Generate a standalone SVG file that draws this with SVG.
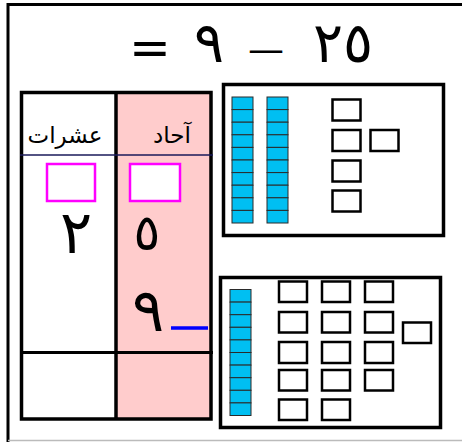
<svg xmlns="http://www.w3.org/2000/svg" width="462" height="442" viewBox="0 0 462 442">
<style>
.ar{font-family:"DejaVu Sans","Liberation Sans",sans-serif;fill:#000}
.cell{fill:#00BFF2;stroke:#2a2a2a;stroke-width:1}
.sq{fill:#fff;stroke:#000;stroke-width:2.5}
.mag{fill:#fff;stroke:#FF00FF;stroke-width:2.5}
.frame{fill:none;stroke:#000;stroke-width:3.5}
</style>
<defs>
<g id="bar">
<rect class="cell" x="0" y="0" width="21" height="12.6"/>
<rect class="cell" x="0" y="12.6" width="21" height="12.6"/>
<rect class="cell" x="0" y="25.2" width="21" height="12.6"/>
<rect class="cell" x="0" y="37.8" width="21" height="12.6"/>
<rect class="cell" x="0" y="50.4" width="21" height="12.6"/>
<rect class="cell" x="0" y="63" width="21" height="12.6"/>
<rect class="cell" x="0" y="75.6" width="21" height="12.6"/>
<rect class="cell" x="0" y="88.2" width="21" height="12.6"/>
<rect class="cell" x="0" y="100.8" width="21" height="12.6"/>
<rect class="cell" x="0" y="113.4" width="21" height="12.6"/>
</g>
</defs>
<rect width="462" height="442" fill="#fff"/>
<g id="outer-frame">
<path d="M8 442 V4.5 H462" fill="none" stroke="#000" stroke-width="3"/>
<line x1="8" y1="440.5" x2="462" y2="440.5" stroke="#bbb" stroke-width="1.5"/>
</g>
<g id="equation">
<text class="ar" x="150" y="65" font-size="50" text-anchor="middle">=</text>
<text class="ar" x="209" y="62" font-size="56" text-anchor="middle">٩</text>
<text class="ar" x="266" y="62" font-size="36" text-anchor="middle">—</text>
<text class="ar" x="343" y="62" font-size="56" text-anchor="middle" direction="ltr">٢٥</text>
</g>
<g id="place-value-table">
<rect x="116" y="92.5" width="95" height="326.5" fill="#FFCCCC"/>
<rect class="frame" x="21.5" y="92.5" width="189.5" height="326.5"/>
<line x1="116" y1="92.5" x2="116" y2="419" stroke="#000" stroke-width="3.5"/>
<line x1="20" y1="155" x2="213" y2="155" stroke="#1a1a5a" stroke-width="1.5"/>
<line x1="20" y1="352.5" x2="213" y2="352.5" stroke="#000" stroke-width="3"/>
<text class="ar" x="65" y="143" font-size="23" text-anchor="middle">عشرات</text>
<text class="ar" x="172" y="143" font-size="23" text-anchor="middle">آحاد</text>
<rect class="mag" x="47" y="164" width="48" height="37"/>
<rect class="mag" x="130" y="164" width="50" height="37"/>
<text class="ar" x="76" y="253" font-size="60" text-anchor="middle">٢</text>
<text class="ar" x="147" y="250" font-size="50" text-anchor="middle">٥</text>
<text class="ar" x="148" y="331" font-size="60" text-anchor="middle">٩</text>
<line x1="171" y1="328" x2="208" y2="328" stroke="#0000FF" stroke-width="3.5"/>
</g>
<g id="blocks-top">
<rect class="frame" x="223.5" y="84.5" width="220" height="151"/>
<use href="#bar" x="232" y="97"/>
<use href="#bar" x="267" y="97"/>
<rect class="sq" x="332.5" y="99.5" width="28" height="21"/>
<rect class="sq" x="332.5" y="130" width="28" height="21"/>
<rect class="sq" x="370.5" y="130" width="28" height="21"/>
<rect class="sq" x="332.5" y="160.5" width="28" height="21"/>
<rect class="sq" x="332.5" y="190.5" width="28" height="21"/>
</g>
<g id="blocks-bottom">
<rect class="frame" x="220.5" y="277.5" width="220" height="150"/>
<use href="#bar" x="230" y="289.5"/>
<rect class="sq" x="279" y="281.5" width="28" height="20.5"/>
<rect class="sq" x="322" y="281.5" width="28" height="20.5"/>
<rect class="sq" x="365" y="281.5" width="28" height="20.5"/>
<rect class="sq" x="279" y="312" width="28" height="20.5"/>
<rect class="sq" x="322" y="312" width="28" height="20.5"/>
<rect class="sq" x="365" y="312" width="28" height="20.5"/>
<rect class="sq" x="279" y="342" width="28" height="21"/>
<rect class="sq" x="322" y="342" width="28" height="21"/>
<rect class="sq" x="365" y="342" width="28" height="21"/>
<rect class="sq" x="279" y="370" width="28" height="20.5"/>
<rect class="sq" x="322" y="370" width="28" height="20.5"/>
<rect class="sq" x="365" y="370" width="28" height="20.5"/>
<rect class="sq" x="279" y="399.5" width="28" height="20.5"/>
<rect class="sq" x="322" y="399.5" width="28" height="20.5"/>
<rect class="sq" x="403" y="322.5" width="28" height="20.5"/>
</g>
</svg>
